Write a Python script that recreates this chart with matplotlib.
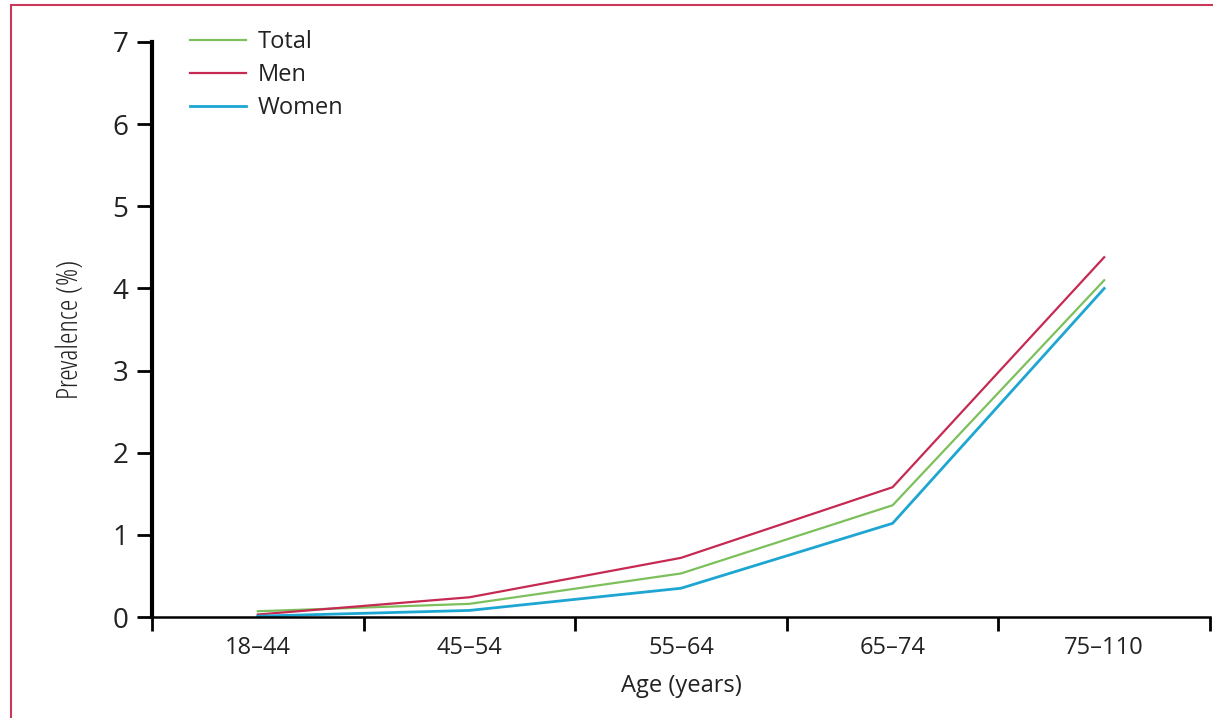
import matplotlib
matplotlib.use("Agg")
import matplotlib.pyplot as plt
from matplotlib.patches import Rectangle

# Data
age_groups = ["18\u201344", "45\u201354", "55\u201364", "65\u201374", "75\u2013110"]
total = [0.07, 0.16, 0.53, 1.36, 4.10]
men = [0.03, 0.24, 0.72, 1.58, 4.38]
women = [0.01, 0.08, 0.35, 1.14, 4.00]

plt.rcParams['font.family'] = ['Open Sans', 'DejaVu Sans']

fig = plt.figure(figsize=(12.13, 7.18), dpi=100)
ax = fig.add_axes([152 / 1213, 101 / 718, (1210 - 152) / 1213, (617 - 42) / 718])

x = range(len(age_groups))
ax.plot(x, total, color='#7cc05c', lw=1.6, label='Total')
ax.plot(x, men, color='#c62a52', lw=1.6, label='Men')
ax.plot(x, women, color='#1ea6d2', lw=2.0, label='Women')

ax.set_xlim(-0.5, 4.5)
ax.set_ylim(0, 7)

# group boundary ticks on x, labels centred in each group
ax.set_xticks([i - 0.5 for i in range(6)])
ax.set_xticklabels([])
ax.set_xticks(list(x), minor=True)
ax.set_xticklabels(age_groups, minor=True, fontsize=17, color='#222222')
ax.tick_params(axis='x', which='major', length=10, width=2, direction='out')
ax.tick_params(axis='x', which='minor', length=0, pad=14)

ax.set_yticks(range(8))
ax.tick_params(axis='y', length=11, width=2, direction='out', labelsize=20,
               labelcolor='#222222', pad=6)

for s in ['top', 'right']:
    ax.spines[s].set_visible(False)
ax.spines['left'].set_linewidth(3)
ax.spines['bottom'].set_linewidth(1.8)

ax.set_xlabel('Age (years)', fontsize=17, color='#222222', labelpad=10)
ax.set_ylabel('Prevalence (%)', fontsize=21, color='#222222', labelpad=20,
              fontstretch='condensed')

leg = ax.legend(loc='upper left', bbox_to_anchor=(0.016, 1.058), frameon=False,
                fontsize=17, handlelength=2.35, handletextpad=0.5, labelspacing=0.38)
for t in leg.get_texts():
    t.set_color('#222222')

# thin red frame around the figure
fig.patches.append(Rectangle((11 / 1213, -0.05), 1.2, (713 / 718) + 0.05,
                             transform=fig.transFigure, fill=False,
                             edgecolor='#c8385a', lw=1.5))

fig.savefig('out.png', dpi=100)
